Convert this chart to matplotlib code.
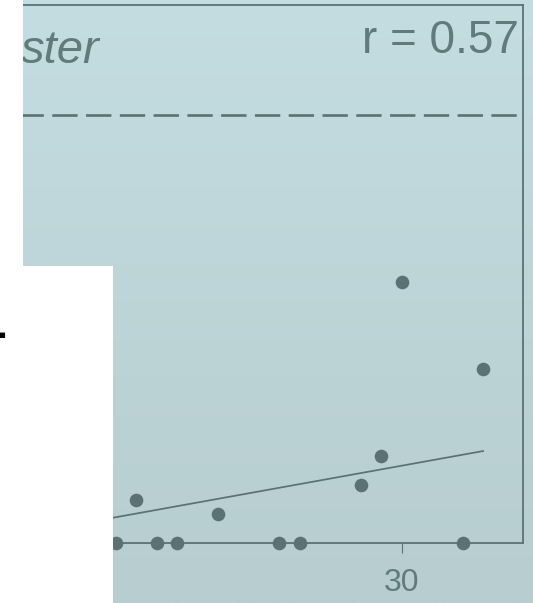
import numpy as np
import matplotlib
matplotlib.use("Agg")
import matplotlib.pyplot as plt
from matplotlib.patches import Rectangle

# --- data -------------------------------------------------------------
x_vals = [16, 17, 18, 19, 21, 24, 25, 28, 29, 30, 33, 34]
y_vals = [0, 1.5, 0, 0, 1, 0, 0, 2, 3, 9, 0, 6]
x_ticks = [30]
threshold = 14.75
fit_intercept = -1.14
fit_slope = 0.1268
r_label = "r = 0.57"
panel_label = "ster"
side_label = "4"

# --- styling -----------------------------------------------------------
W, H, DPI = 533, 603, 100
ink = "#5a7274"
text_col = "#617b7d"
bg_top, bg_bot = "#c4dde0", "#b7cdd0"

fig = plt.figure(figsize=(W / DPI, H / DPI), dpi=DPI)

# vertical background wash
bg = fig.add_axes([0, 0, 1, 1], zorder=-10)
c0 = np.array(matplotlib.colors.to_rgb(bg_top))
c1 = np.array(matplotlib.colors.to_rgb(bg_bot))
t = np.linspace(0, 1, 256)[:, None, None]
grad = c0 * (1 - t) + c1 * t
bg.imshow(np.repeat(grad, 2, axis=1), aspect="auto", extent=[0, 1, 0, 1])
bg.set_axis_off()

# main panel (pixel geometry)
left_px, right_px, top_px, bottom_px = 18, 523, 4.5, 543
ax = fig.add_axes([left_px / W, (H - bottom_px) / H,
                   (right_px - left_px) / W, (bottom_px - top_px) / H])
ax.set_facecolor("none")

px_per_x = 20.4
px_per_y = 29.0
x0 = 30 - (401.5 - left_px) / px_per_x
x1 = 30 + (right_px - 401.5) / px_per_x
ax.set_xlim(x0, x1)
ax.set_ylim(0, (bottom_px - top_px) / px_per_y)

for side in ["top", "right", "bottom", "left"]:
    ax.spines[side].set_color(ink)
    ax.spines[side].set_linewidth(1.3)

ax.set_xticks(x_ticks)
ax.set_xticklabels([str(v) for v in x_ticks], family="Liberation Sans",
                   fontsize=23, color=text_col)
ax.tick_params(axis="x", length=7.2, width=0.8, color=ink, pad=11)
ax.set_yticks([])

# threshold line
ax.axhline(threshold, color=ink, lw=1.9, dashes=(9.6, 3.2), zorder=2)

# fitted trend
xf = np.array([x0, max(x_vals)])
ax.plot(xf, fit_intercept + fit_slope * xf, color=ink, lw=1.25, zorder=3)

# observations
ax.plot(x_vals, y_vals, "o", ms=9.8, color=ink, mec="none",
        clip_on=False, zorder=5)

# annotations
fig.text(519 / W, 1 - 53 / H, r_label, ha="right", va="baseline",
         family="Liberation Sans", fontsize=33, color=text_col)
fig.text(21 / W, 1 - 63 / H, panel_label, ha="left", va="baseline",
         family="Liberation Sans", style="italic", fontsize=34,
         color=text_col)

# white margin blocks
fig.add_artist(Rectangle((0, 0), 23 / W, 1, transform=fig.transFigure,
                         facecolor="white", edgecolor="none", zorder=20))
fig.add_artist(Rectangle((0, 0), 113 / W, (H - 266) / H,
                         transform=fig.transFigure,
                         facecolor="white", edgecolor="none", zorder=20))

fig.text(-36 / W, 1 - 349 / H, side_label, ha="left", va="baseline",
         family="DejaVu Sans", fontsize=51, color="black", zorder=30)

fig.savefig("out.png", dpi=DPI)
